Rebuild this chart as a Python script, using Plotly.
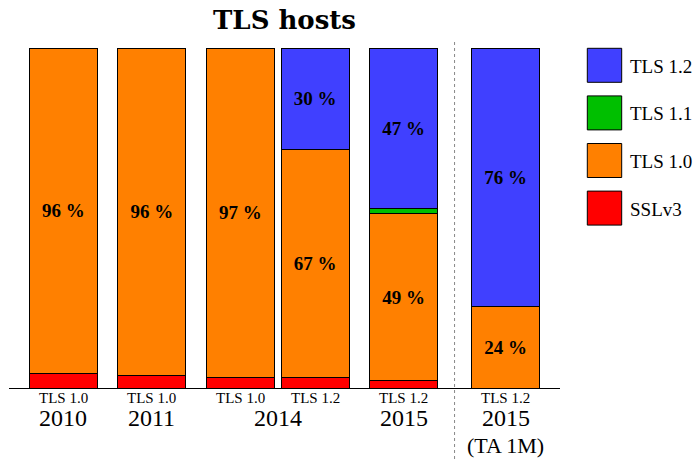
import plotly.graph_objects as go

# ---- data ----
years = ["2010", "2011", "2014", "2014", "2015", "2015<br>(TA 1M)"]
sublabels = ["TLS 1.0", "TLS 1.0", "TLS 1.0", "TLS 1.2", "TLS 1.2", "TLS 1.2"]
slots = [0, 1.3, 2.6, 3.7, 5.0, 6.5]
sslv3 = [4.3, 3.6, 3.1, 3.1, 2.1, 0.0]
tls10 = [95.7, 96.4, 96.9, 67.1, 49.1, 23.9]
tls11 = [0.0, 0.0, 0.0, 0.0, 1.7, 0.0]
tls12 = [0.0, 0.0, 0.0, 29.8, 47.1, 76.1]

series = [
    ("SSLv3", sslv3, "#FF0000"),
    ("TLS 1.0", tls10, "#FF8000"),
    ("TLS 1.1", tls11, "#00BF00"),
    ("TLS 1.2", tls12, "#4040FF"),
]

FONT = "Liberation Serif"
W, H = 697, 459
L, R, T, B = 9, 137, 48, 71
PW, PH = W - L - R, H - T - B


def px_x(p):
    return (p - L) / PW


def px_y(p):
    return (H - B - p) / PH


fig = go.Figure()
for name, vals, color in series:
    fig.add_trace(go.Bar(
        x=slots, y=vals, name=name, width=1.0,
        marker=dict(color=color, line=dict(color="black", width=1)),
        text=[f"<b>{round(v)} %</b>" if v >= 10 else "" for v in vals],
        textposition="inside", insidetextanchor="middle", textangle=0,
        constraintext="none",
        textfont=dict(family=FONT, size=19, color="black"),
        showlegend=False, hoverinfo="skip",
    ))

annotations = []
for s, lab in zip(slots, sublabels):
    annotations.append(dict(x=s, y=px_y(398), xref="x", yref="paper", text=lab,
                            showarrow=False, font=dict(family=FONT, size=15, color="black"),
                            xanchor="center", yanchor="middle"))
groups = []
for s, yv in zip(slots, years):
    if groups and groups[-1][0] == yv:
        groups[-1][1].append(s)
    else:
        groups.append([yv, [s]])
for yv, ss in groups:
    for k, line in enumerate(yv.split("<br>")):
        annotations.append(dict(x=sum(ss) / len(ss), y=px_y(418 + 27 * k), xref="x", yref="paper",
                                text=line, showarrow=False,
                                font=dict(family=FONT, size=24 if k == 0 else 22, color="black"),
                                xanchor="center", yanchor="middle"))

shapes = []
legend_items = list(reversed(series))
for i, (name, vals, color) in enumerate(legend_items):
    top = 48.3 + i * 47.6
    shapes.append(dict(type="rect", xref="paper", yref="paper",
                       x0=px_x(587.3), x1=px_x(621.7), y0=px_y(top + 34), y1=px_y(top),
                       fillcolor=color, line=dict(color="black", width=1)))
    annotations.append(dict(x=px_x(628), y=px_y(top + 18), xref="paper", yref="paper",
                            text=name, showarrow=False, xanchor="left", yanchor="middle",
                            font=dict(family=FONT, size=19, color="black")))

shapes.append(dict(type="line", xref="x", yref="paper", x0=(slots[4] + slots[5]) / 2,
                   x1=(slots[4] + slots[5]) / 2, y0=px_y(459), y1=px_y(40),
                   line=dict(color="#888888", width=1, dash="dot")))

fig.update_layout(
    width=W, height=H,
    margin=dict(l=L, r=R, t=T, b=B, pad=0),
    barmode="stack",
    paper_bgcolor="white", plot_bgcolor="white",
    title=dict(text="<b>TLS hosts</b>", x=px_x(284.5), xref="paper", xanchor="center",
               y=1 - 20 / H, yanchor="middle",
               font=dict(family="DejaVu Serif", size=26, color="black")),
    xaxis=dict(range=[-0.8, 7.3], showline=True, linecolor="black", linewidth=1,
               showgrid=False, zeroline=False, showticklabels=False, ticks="", fixedrange=True),
    yaxis=dict(range=[0, 100], visible=False, showgrid=False, zeroline=False),
    annotations=annotations, shapes=shapes,
    font=dict(family=FONT),
)

fig.write_html("out.html", config={"displayModeBar": False},
               post_script="document.body.style.margin='0';")
